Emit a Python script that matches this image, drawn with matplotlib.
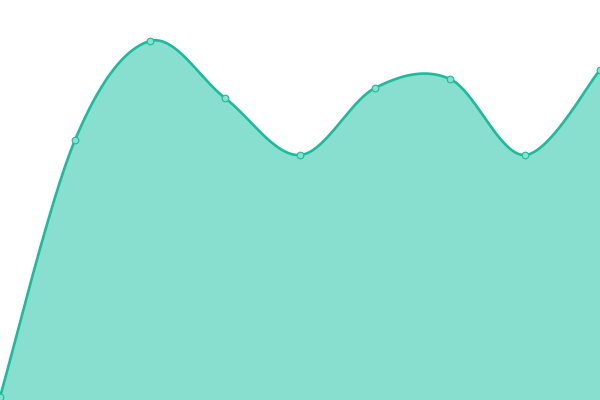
import numpy as np
import matplotlib
matplotlib.use("Agg")
import matplotlib.pyplot as plt

categories = ["A", "B", "C", "D", "E", "F", "G", "H", "I"]
values = [0, 257, 356, 299, 242, 309, 318, 242, 327]

LINE = "#1abc9c"
FILL = "#88dfd0"

def catmull(xs, ys, n=40, t=1/6):
    xs = np.asarray(xs, float); ys = np.asarray(ys, float)
    P = np.column_stack([xs, ys])
    out = []
    for i in range(len(P) - 1):
        p0 = P[max(i - 1, 0)]; p1 = P[i]; p2 = P[i + 1]; p3 = P[min(i + 2, len(P) - 1)]
        c1 = p1 + (p2 - p0) * t
        c2 = p2 - (p3 - p1) * t
        s = np.linspace(0, 1, n)[:, None]
        seg = (1 - s) ** 3 * p1 + 3 * (1 - s) ** 2 * s * c1 + 3 * (1 - s) * s ** 2 * c2 + s ** 3 * p2
        out.append(seg if i == 0 else seg[1:])
    pts = np.vstack(out)
    return pts[:, 0], pts[:, 1]

x = np.arange(len(categories))
sx, sy = catmull(x, values)

fig = plt.figure(figsize=(6, 4), dpi=100)
ax = fig.add_axes([0, 0, 1, 1])
ax.fill_between(sx, sy, -10, color=FILL, lw=0, zorder=1)
ax.plot(sx, sy, color=LINE, lw=1.9, zorder=2, solid_capstyle="round")
ax.plot(x, values, "o", ms=4.8, mfc=FILL, mec=LINE, mew=0.8, zorder=3, clip_on=False)
ax.set_xlim(0, len(categories) - 1)
ax.set_ylim(-3, 397)
ax.axis("off")
fig.savefig("out.png", dpi=100)
